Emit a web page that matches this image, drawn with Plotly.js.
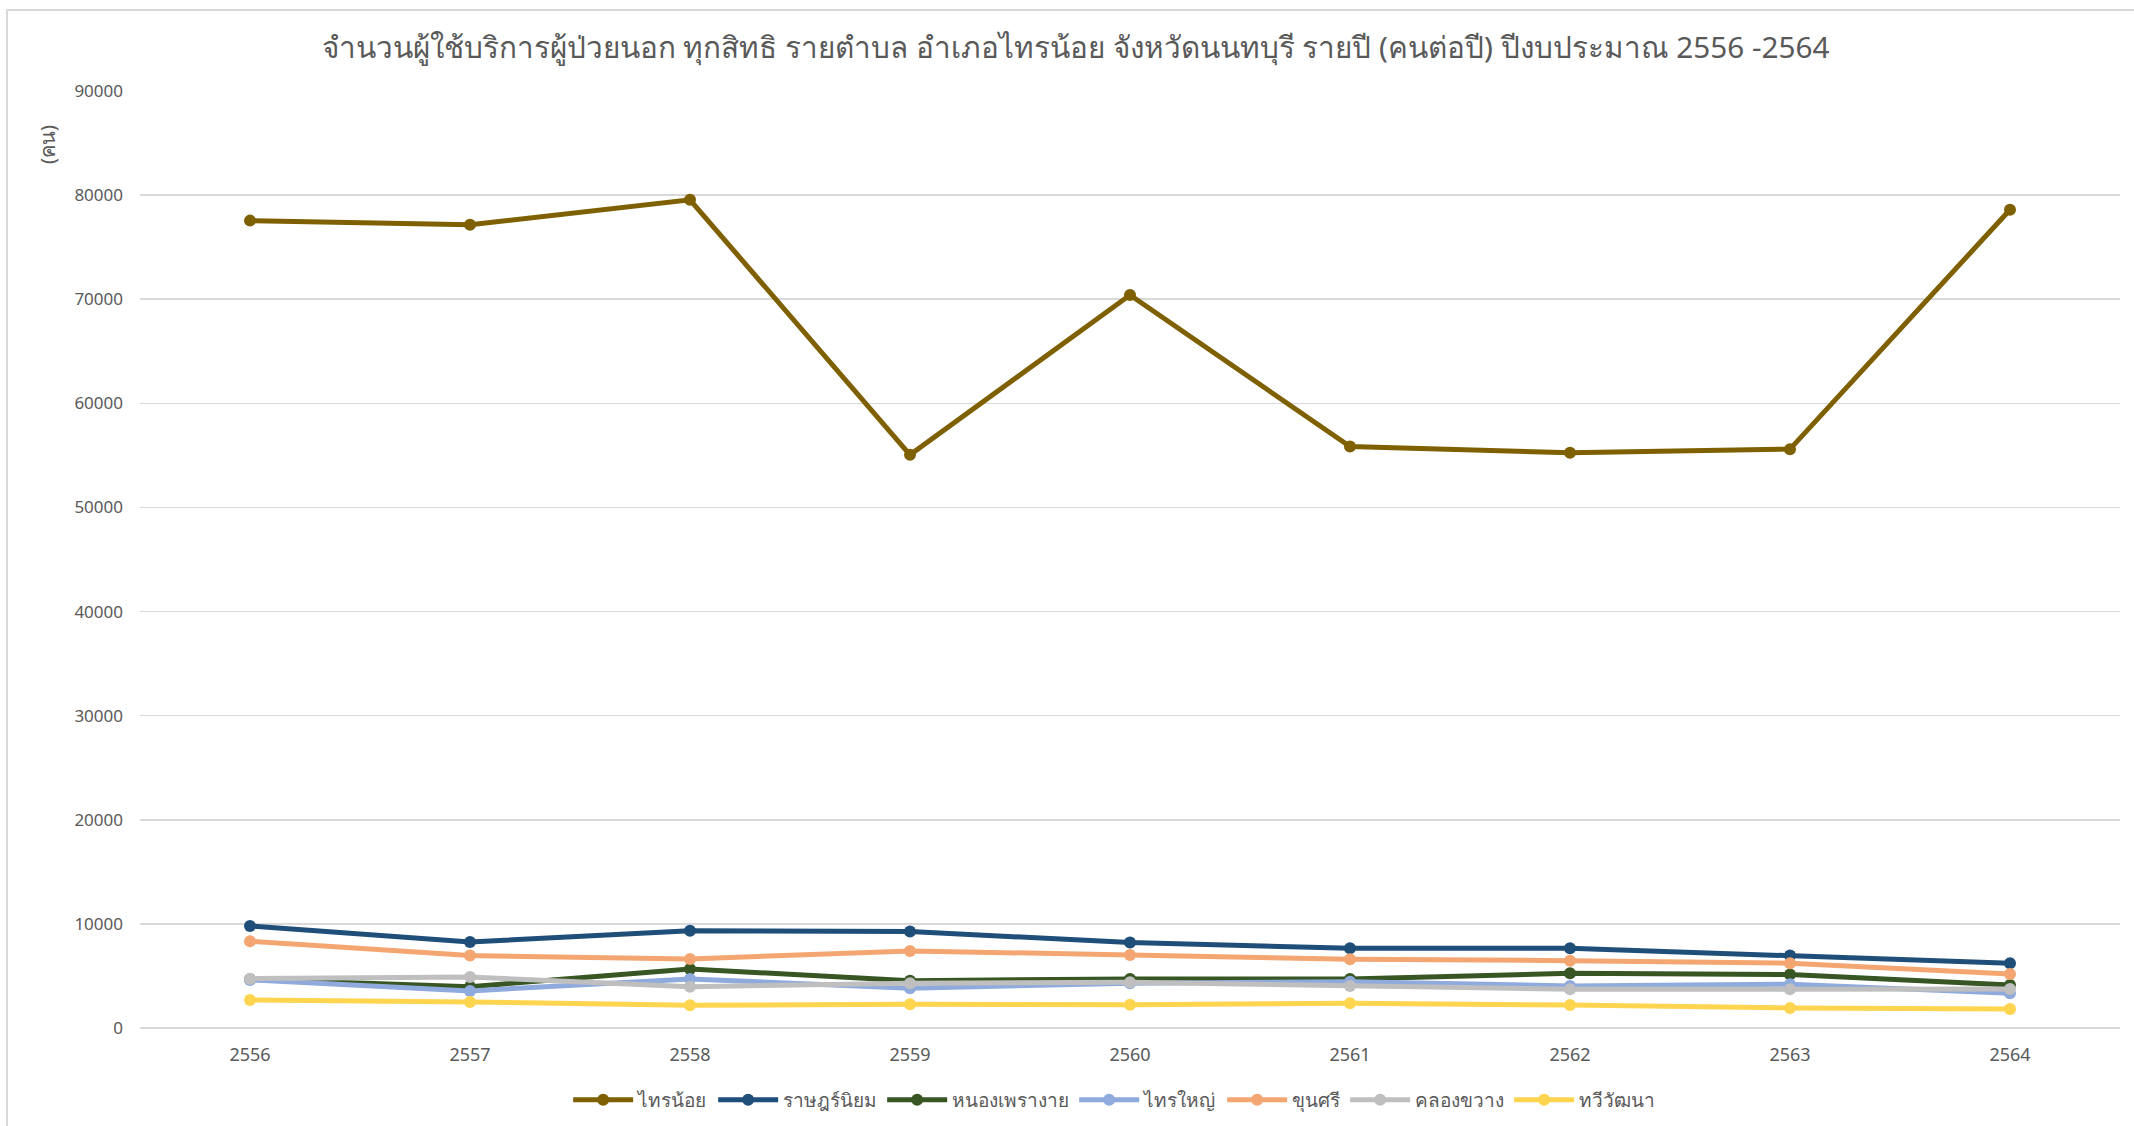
<!DOCTYPE html>
<html>
<head>
<meta charset="utf-8">
<script src="https://cdn.plot.ly/plotly-3.0.1.min.js"></script>
<style>
  html, body { margin: 0; padding: 0; background: #ffffff; }
  #wrap { position: relative; width: 2134px; height: 1126px; overflow: hidden; }
  #chart { width: 2134px; height: 1126px; }
  #frame { position: absolute; left: 6px; top: 9px; right: -4px; bottom: -4px;
           border-left: 2px solid #d9d9d9; border-top: 2px solid #d9d9d9; pointer-events: none; }
</style>
</head>
<body>
<div id="wrap">
  <div id="chart"></div>
  <div id="frame"></div>
</div>
<script>
// ---- data ----
const years = ['2556', '2557', '2558', '2559', '2560', '2561', '2562', '2563', '2564'];

const saiNoi      = [77550, 77150, 79550, 55050, 70400, 55850, 55250, 55600, 78600];
const ratNiyom    = [9800, 8270, 9330, 9260, 8210, 7660, 7660, 6960, 6220];
const nongPhrao   = [4680, 3970, 5670, 4550, 4710, 4710, 5260, 5130, 4130];
const saiYai      = [4620, 3560, 4710, 3810, 4300, 4450, 4040, 4200, 3330];
const khunSi      = [8330, 6960, 6630, 7400, 7020, 6600, 6470, 6220, 5190];
const khlongKhwang= [4740, 4900, 3970, 4300, 4390, 4040, 3720, 3720, 3750];
const thawiWatthana = [2690, 2500, 2180, 2280, 2240, 2370, 2210, 1920, 1830];

const seriesNames = ['ไทรน้อย', 'ราษฎร์นิยม', 'หนองเพรางาย', 'ไทรใหญ่', 'ขุนศรี', 'คลองขวาง', 'ทวีวัฒนา'];
const seriesValues = [saiNoi, ratNiyom, nongPhrao, saiYai, khunSi, khlongKhwang, thawiWatthana];
const seriesColors = ['#7F6000', '#1F4E79', '#375623', '#8FAADC', '#F4A672', '#BFBFBF', '#FFD54F'];

const yTicks = [0, 10000, 20000, 30000, 40000, 50000, 60000, 70000, 80000, 90000];

const titleText = 'จำนวนผู้ใช้บริการผู้ป่วยนอก ทุกสิทธิ รายตำบล อำเภอไทรน้อย จังหวัดนนทบุรี รายปี (คนต่อปี) ปีงบประมาณ 2556 -2564';
const yTitle = '(คน)';

// ---- chart ----
const FONT = 'Noto Sans, Open Sans, sans-serif';
const traces = seriesNames.map((name, i) => ({
  type: 'scatter',
  mode: 'lines+markers',
  name: name,
  x: years,
  y: seriesValues[i],
  line: { color: seriesColors[i], width: 5 },
  marker: { color: seriesColors[i], size: 12 }
}));

const layout = {
  width: 2134,
  height: 1126,
  margin: { l: 140, r: 14, t: 91, b: 98, autoexpand: false },
  paper_bgcolor: '#ffffff',
  plot_bgcolor: '#ffffff',
  font: { family: FONT, color: '#595959', size: 18 },
  title: {
    text: titleText,
    font: { family: FONT, size: 29.7, color: '#595959' },
    x: 0.504, xref: 'container', xanchor: 'center',
    y: 1 - 48 / 1126, yref: 'container', yanchor: 'middle'
  },
  xaxis: {
    type: 'category',
    range: [-0.5, 8.5],
    showgrid: false,
    zeroline: false,
    showline: false,
    ticks: '',
    ticklabelstandoff: 14,
    tickfont: { family: FONT, size: 18, color: '#595959' },
    fixedrange: true
  },
  yaxis: {
    range: [0, 90000],
    tickvals: yTicks,
    ticktext: yTicks.map(String),
    showgrid: true,
    gridcolor: '#d9d9d9',
    gridwidth: 1.5,
    zeroline: true,
    zerolinecolor: '#d9d9d9',
    zerolinewidth: 1.5,
    showline: false,
    ticks: '',
    ticklen: 0,
    ticklabelstandoff: 16,
    tickfont: { family: FONT, size: 17, color: '#595959' },
    fixedrange: true
  },
  showlegend: true,
  legend: {
    orientation: 'h',
    x: 0.492, xanchor: 'center',
    y: 1 - 1100 / 1126, yref: 'container', yanchor: 'middle',
    font: { family: FONT, size: 19, color: '#595959' },
    itemwidth: 60,
    bgcolor: 'rgba(0,0,0,0)'
  },
  annotations: [{
    text: yTitle,
    xref: 'paper', yref: 'paper',
    x: (48 - 140) / 1980, y: (1028 - 145) / 937,
    xanchor: 'center', yanchor: 'middle',
    textangle: -90,
    showarrow: false,
    font: { family: FONT, size: 20, color: '#595959' }
  }]
};

Plotly.newPlot('chart', traces, layout, { displayModeBar: false, staticPlot: true });
</script>
</body>
</html>
